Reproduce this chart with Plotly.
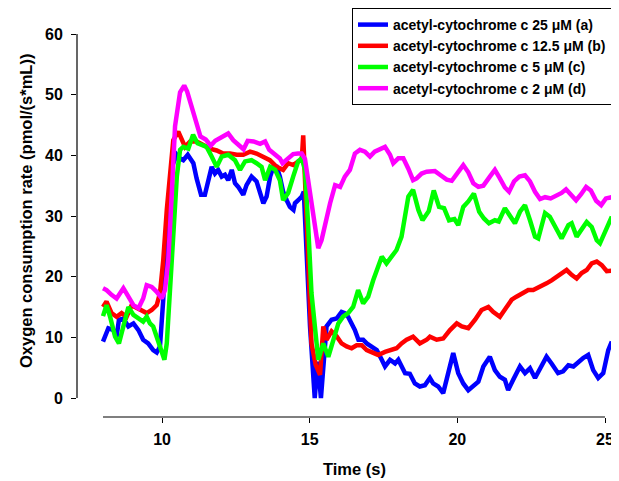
import plotly.graph_objects as go

# ---------------- data ----------------
t_a = [8.00, 8.18, 8.35, 8.46, 8.54, 8.69, 8.86, 9.03, 9.20, 9.36, 9.53, 9.70, 9.82, 9.93,
       10.04, 10.16, 10.33, 10.50, 10.60, 10.72, 10.87, 11.06, 11.17, 11.32, 11.45, 11.62,
       11.68, 11.79, 11.90, 12.02, 12.13, 12.24, 12.36, 12.47, 12.58, 12.75, 12.86, 13.03,
       13.20, 13.32, 13.43, 13.54, 13.66, 13.77, 13.88, 13.99, 14.10, 14.22, 14.33, 14.45,
       14.50, 14.61, 14.73, 14.80, 14.90, 15.01, 15.17, 15.27, 15.38, 15.50, 15.57, 15.74,
       15.91, 16.08, 16.19, 16.30, 16.42, 16.53, 16.65, 16.81, 16.93, 17.10, 17.27, 17.44,
       17.55, 17.72, 17.89, 18.00, 18.11, 18.23, 18.39, 18.56, 18.73, 18.90, 19.07, 19.18,
       19.35, 19.52, 19.69, 19.86, 20.03, 20.20, 20.37, 20.54, 20.71, 20.88, 21.10, 21.27,
       21.44, 21.61, 21.72, 21.89, 22.06, 22.12, 22.29, 22.46, 22.63, 22.80, 23.02, 23.19,
       23.41, 23.58, 23.76, 23.93, 24.09, 24.26, 24.43, 24.60, 24.77, 24.94, 25.11, 25.23]
y_a = [9.3, 11.5, 11.2, 10.1, 12.9, 13.1, 11.8, 12.3, 11.2, 9.6, 9.0, 7.9, 7.5, 8.5,
       16.2, 28.2, 38.1, 40.1, 39.5, 39.2, 40.1, 38.7, 36.2, 33.5, 33.5, 36.5,
       38.1, 37.0, 37.6, 36.5, 36.8, 35.9, 37.6, 35.4, 34.8, 33.5, 35.1, 36.5,
       35.7, 33.8, 32.1, 33.2, 36.5, 38.1, 38.1, 36.5, 34.0, 32.6, 31.5, 31.0,
       32.1, 32.6, 33.2, 34.0, 22.7, 11.8, 0.0, 6.0, 0.0, 9.0, 11.8, 12.9,
       13.1, 14.2, 14.0, 13.4, 12.3, 11.2, 9.6, 9.6, 9.0, 8.5, 7.9, 6.3,
       5.2, 6.3, 5.7, 6.3, 5.2, 4.1, 4.0, 2.4, 1.9, 2.1, 3.3, 2.4,
       1.9, 0.8, 4.1, 7.4, 4.1, 2.4, 1.3, 1.9, 2.7, 5.2, 6.8, 4.6,
       3.5, 3.0, 1.3, 3.0, 4.9, 5.2, 4.1, 4.9, 3.3, 4.9, 6.8, 5.7,
       4.1, 4.4, 5.4, 5.2, 6.0, 6.6, 7.1, 4.6, 3.3, 4.1, 7.9, 9.3]

t_b = [8.00, 8.12, 8.29, 8.46, 8.63, 8.80, 8.97, 9.14, 9.31, 9.48, 9.65, 9.82, 9.93, 10.04,
       10.16, 10.27, 10.38, 10.55, 10.66, 10.78, 10.95, 11.17, 11.40, 11.62, 11.85, 12.07,
       12.30, 12.53, 12.75, 12.98, 13.20, 13.43, 13.65, 13.88, 14.10, 14.27, 14.44, 14.61,
       14.73, 14.78, 14.82, 14.95, 15.06, 15.20, 15.35, 15.46, 15.57, 15.74, 15.91, 16.08,
       16.25, 16.42, 16.59, 16.76, 16.93, 17.10, 17.32, 17.55, 17.77, 17.94, 18.11, 18.28,
       18.50, 18.73, 18.96, 19.07, 19.30, 19.52, 19.75, 19.98, 20.15, 20.37, 20.60, 20.82,
       21.05, 21.21, 21.44, 21.67, 21.84, 22.00, 22.23, 22.40, 22.57, 22.80, 23.02, 23.19,
       23.36, 23.53, 23.70, 23.87, 24.04, 24.21, 24.38, 24.55, 24.72, 24.89, 25.06, 25.23]
y_b = [15.0, 15.9, 14.0, 13.4, 14.0, 13.4, 15.3, 14.8, 14.5, 14.0, 14.5, 15.3, 17.3, 22.7,
       31.0, 37.6, 42.5, 43.9, 42.5, 41.4, 42.3, 42.3, 41.7, 41.1, 40.8, 40.3,
       40.3, 40.1, 40.1, 40.6, 40.3, 39.8, 39.2, 38.1, 37.6, 38.7, 38.4, 39.0,
       39.2, 43.3, 39.0, 22.7, 9.0, 5.5, 3.8, 11.8, 9.6, 11.0, 10.2, 9.0,
       8.5, 8.2, 8.7, 8.7, 7.9, 7.6, 7.1, 7.6, 7.9, 8.2, 9.0, 9.6,
       10.1, 9.0, 9.6, 10.1, 9.6, 9.8, 11.2, 12.3, 11.8, 11.5, 12.9, 14.5,
       15.0, 14.2, 13.4, 15.0, 16.2, 16.7, 17.3, 17.8, 17.8, 18.3, 18.9, 19.4,
       20.0, 20.6, 21.1, 20.3, 19.7, 20.6, 21.1, 22.2, 22.5, 21.9, 20.9, 21.0]

t_c = [8.00, 8.12, 8.24, 8.41, 8.54, 8.69, 8.86, 9.03, 9.20, 9.36, 9.48, 9.59, 9.70, 9.82,
       9.99, 10.08, 10.16, 10.27, 10.38, 10.50, 10.61, 10.72, 10.89, 11.05, 11.20, 11.34,
       11.51, 11.68, 11.85, 12.02, 12.24, 12.47, 12.64, 12.81, 13.03, 13.20, 13.37, 13.49,
       13.66, 13.83, 13.99, 14.10, 14.27, 14.44, 14.61, 14.73, 14.84, 14.95, 15.06, 15.29,
       15.46, 15.63, 15.80, 15.97, 16.13, 16.30, 16.47, 16.64, 16.81, 16.98, 17.15, 17.32,
       17.44, 17.60, 17.77, 17.94, 18.11, 18.23, 18.34, 18.50, 18.68, 18.82, 19.03, 19.20,
       19.38, 19.55, 19.72, 19.90, 20.03, 20.20, 20.37, 20.56, 20.74, 20.90, 21.07, 21.27,
       21.40, 21.61, 21.78, 21.95, 22.12, 22.29, 22.46, 22.63, 22.74, 22.97, 23.13, 23.31,
       23.53, 23.76, 23.87, 24.04, 24.26, 24.38, 24.55, 24.72, 24.83, 25.00, 25.23]
y_c = [13.5, 15.3, 13.4, 10.1, 9.0, 11.8, 15.0, 13.7, 13.1, 12.6, 13.4, 12.3, 11.8, 10.1,
       7.4, 6.3, 9.0, 17.3, 28.2, 36.5, 40.9, 41.4, 41.1, 43.4, 42.0, 41.8,
       41.4, 39.8, 38.1, 39.8, 40.1, 39.2, 37.6, 39.0, 39.2, 38.7, 38.1, 35.9,
       38.1, 37.6, 35.9, 32.6, 33.8, 36.5, 39.0, 39.5, 37.6, 28.2, 17.3, 6.3,
       9.0, 6.8, 9.6, 12.3, 13.4, 14.0, 15.0, 17.8, 15.6, 16.7, 19.4, 21.6,
       23.3, 22.2, 23.3, 24.4, 26.6, 29.9, 33.2, 34.3, 31.0, 29.3, 30.8, 34.2,
       31.5, 31.3, 29.3, 29.5, 28.5, 31.5, 32.4, 33.7, 30.7, 29.6, 28.8, 29.3,
       29.1, 31.3, 30.0, 28.8, 30.7, 31.8, 29.3, 26.6, 26.3, 30.5, 29.9, 28.2,
       26.3, 28.5, 28.8, 26.6, 28.2, 29.0, 28.2, 26.0, 25.5, 27.4, 29.9]

t_d = [8.00, 8.12, 8.29, 8.46, 8.69, 8.86, 9.03, 9.20, 9.36, 9.48, 9.65, 9.82, 9.99, 10.10,
       10.21, 10.33, 10.44, 10.61, 10.75, 10.85, 11.00, 11.14, 11.30, 11.48, 11.65, 11.80,
       12.02, 12.24, 12.41, 12.61, 12.76, 12.90, 13.10, 13.32, 13.49, 13.63, 13.80, 13.99,
       14.08, 14.25, 14.44, 14.60, 14.73, 14.84, 15.01, 15.17, 15.29, 15.40, 15.52, 15.69,
       15.86, 16.03, 16.19, 16.36, 16.53, 16.70, 16.87, 17.04, 17.20, 17.37, 17.55, 17.72,
       17.83, 18.00, 18.17, 18.34, 18.50, 18.62, 18.79, 18.96, 19.10, 19.24, 19.41, 19.64,
       19.81, 20.03, 20.20, 20.37, 20.54, 20.71, 20.88, 21.10, 21.27, 21.44, 21.61, 21.75,
       21.92, 22.10, 22.29, 22.46, 22.63, 22.80, 22.97, 23.16, 23.33, 23.53, 23.68, 23.85,
       24.02, 24.19, 24.36, 24.52, 24.70, 24.87, 25.03, 25.23]
y_d = [18.1, 17.8, 17.0, 16.4, 18.1, 16.7, 15.3, 14.8, 16.4, 18.6, 18.3, 17.5, 16.4, 17.8,
       22.7, 33.7, 44.8, 50.4, 51.5, 50.5, 47.8, 45.3, 43.1, 42.6, 41.6, 42.4,
       43.0, 43.6, 42.5, 41.5, 41.0, 42.4, 42.3, 41.9, 42.3, 40.9, 40.3, 39.5,
       38.7, 39.5, 40.2, 40.3, 40.3, 39.4, 33.5, 28.0, 24.7, 26.0, 28.8, 32.1,
       35.1, 34.8, 36.5, 37.6, 40.3, 40.9, 40.6, 39.8, 40.6, 40.9, 41.4, 40.1,
       38.7, 39.5, 39.5, 37.8, 35.9, 36.2, 37.0, 37.3, 37.4, 37.4, 36.8, 36.0,
       35.8, 37.3, 38.4, 37.2, 35.4, 34.8, 35.0, 36.5, 37.6, 36.2, 34.7, 34.0,
       35.7, 36.5, 36.7, 35.7, 34.0, 32.8, 33.1, 32.9, 33.3, 33.8, 34.4, 33.5,
       32.6, 33.6, 34.8, 34.2, 32.5, 31.8, 32.9, 33.1]

series_names = ["acetyl-cytochrome c 25 \u03bcM (a)",
                "acetyl-cytochrome c 12.5 \u03bcM (b)",
                "acetyl-cytochrome c 5 \u03bcM (c)",
                "acetyl-cytochrome c 2 \u03bcM (d)"]
series_colors = ["#0000FF", "#FF0000", "#00FF00", "#FF00FF"]

x_ticks = [10, 15, 20, 25]
y_ticks = [0, 10, 20, 30, 40, 50, 60]
x_axis_span = [8, 25]
y_axis_span = [0, 60]

# ---------------- layout geometry (page has an 8px body margin) ----------------
W, H = 611, 473
ML, MR, MT, MB = 69, 6, 26, 64
plot_w = W - ML - MR
plot_h = H - MT - MB
px_per_x = 29.53          # pixels per second
px_per_y = 6.067          # pixels per unit
x_lo = x_axis_span[0] - 26 / px_per_x
x_hi = x_lo + plot_w / px_per_x
y_hi = y_axis_span[1]
y_lo = y_hi - plot_h / px_per_y

FONT = "Arial, Liberation Sans, sans-serif"

fig = go.Figure()
for t, y, name, col in zip([t_a, t_b, t_c, t_d], [y_a, y_b, y_c, y_d], series_names, series_colors):
    fig.add_trace(go.Scatter(x=t, y=y, mode="lines", name=name,
                             line=dict(color=col, width=4.5)))

fig.update_layout(
    width=W, height=H,
    margin=dict(l=ML, r=MR, t=MT, b=MB, autoexpand=False),
    paper_bgcolor="white", plot_bgcolor="white",
    showlegend=True,
    legend=dict(x=(344 - ML) / plot_w, y=(H - MB) / plot_h, xanchor="left", yanchor="top",
                bordercolor="black", borderwidth=1, bgcolor="white",
                font=dict(family=FONT, size=14, color="black", weight="bold"),
                tracegroupgap=0),
    xaxis=dict(range=[x_lo, x_hi], showgrid=False, zeroline=False, showline=False,
               tickmode="array", tickvals=x_ticks, ticks="outside", ticklen=5,
               tickwidth=1, tickcolor="black", ticklabelstandoff=3, automargin=False,
               tickfont=dict(family=FONT, size=16, color="black", weight="bold")),
    yaxis=dict(range=[y_lo, y_hi], showgrid=False, zeroline=False, showline=False,
               tickmode="array", tickvals=y_ticks, ticks="outside", ticklen=5,
               tickwidth=1, tickcolor="black", ticklabelstandoff=5, automargin=False,
               tickfont=dict(family=FONT, size=16, color="black", weight="bold")),
    shapes=[
        dict(type="line", xref="x", yref="paper", x0=x_axis_span[0], x1=x_axis_span[1],
             y0=0, y1=0, line=dict(color="black", width=1.2)),
        dict(type="line", xref="paper", yref="y", x0=0, x1=0,
             y0=y_axis_span[0], y1=y_axis_span[1], line=dict(color="black", width=1.2)),
    ],
    annotations=[
        dict(text="Time (s)", xref="paper", yref="paper",
             x=(346 - ML) / plot_w, y=(H - MB - 461) / plot_h, showarrow=False,
             xanchor="center", yanchor="middle",
             font=dict(family=FONT, size=16.5, color="black", weight="bold")),
        dict(text="Oxygen consumption rate (pmol/(s*mL))", xref="paper", yref="paper",
             x=(18 - ML) / plot_w, y=(H - MB - 203) / plot_h, showarrow=False, textangle=-90,
             xanchor="center", yanchor="middle",
             font=dict(family=FONT, size=16.5, color="black", weight="bold")),
    ],
)

fig.write_html("out.html")
